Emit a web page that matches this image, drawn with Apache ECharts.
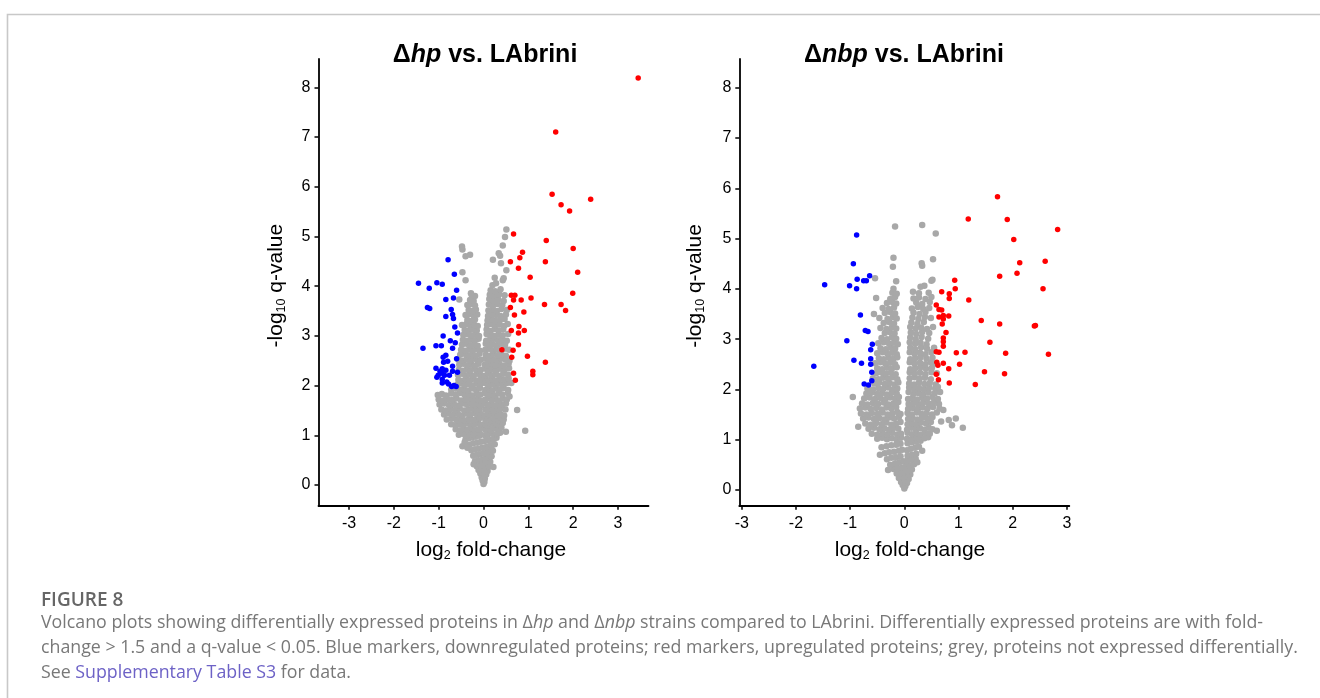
<!DOCTYPE html>
<html>
<head>
<meta charset="utf-8">
<title>Volcano plots</title>
<script src="https://cdn.jsdelivr.net/npm/echarts@6/dist/echarts.min.js"></script>
<style>
  html, body { margin: 0; padding: 0; background: #fff; }
  #chart { width: 1320px; height: 698px; }
</style>
</head>
<body>
<div id="chart"></div>
<script>
  // tick labels
  var xTicks = [-3, -2, -1, 0, 1, 2, 3];
  var yTicks = [0, 1, 2, 3, 4, 5, 6, 7, 8];

  // Δhp vs. LAbrini  [log2 fold-change, -log10 q-value]
  var hpUp = [[3.45,8.19],[1.61,7.10],[1.53,5.85],[2.39,5.75],[1.73,5.64],[1.92,5.51],[0.67,5.05],[1.40,4.92],[2.00,4.76],[0.87,4.68],[0.81,4.57],[0.60,4.49],[1.38,4.49],[0.78,4.36],[2.10,4.28],[1.04,4.18],[0.62,3.82],[0.70,3.82],[1.99,3.86],[1.06,3.76],[0.84,3.72],[0.67,3.72],[1.36,3.63],[1.73,3.63],[0.60,3.57],[1.83,3.51],[0.90,3.48],[0.69,3.42],[0.79,3.19],[0.62,3.11],[0.91,3.11],[0.78,3.06],[0.78,2.82],[0.41,2.72],[0.66,2.71],[0.98,2.59],[0.63,2.57],[1.38,2.47],[1.10,2.29],[1.10,2.22],[0.67,2.25],[0.71,2.11]];
  var hpDown = [[-0.79,4.53],[-0.65,4.24],[-1.45,4.06],[-1.04,4.07],[-0.92,4.04],[-1.21,3.96],[-0.60,3.92],[-0.67,3.76],[-0.84,3.73],[-1.25,3.57],[-1.20,3.55],[-0.72,3.53],[-0.69,3.43],[-0.84,3.39],[-0.67,3.35],[-0.64,3.18],[-0.58,3.06],[-0.90,3.00],[-0.74,2.90],[-0.63,2.86],[-1.06,2.80],[-0.94,2.80],[-1.35,2.75],[-0.69,2.75],[-0.84,2.61],[-0.90,2.57],[-0.60,2.54],[-0.89,2.47],[-0.80,2.49],[-0.69,2.39],[-1.06,2.35],[-0.92,2.34],[-0.97,2.29],[-0.84,2.31],[-0.69,2.29],[-0.58,2.27],[-0.92,2.25],[-1.01,2.21],[-0.87,2.21],[-0.76,2.21],[-1.04,2.17],[-0.92,2.13],[-0.92,2.05],[-0.82,2.07],[-0.78,2.03],[-0.71,1.98],[-0.61,1.98],[-0.66,2.00]];
  var hpGrey = [
    [0.00,0.02],[0.02,0.06],[-0.02,0.09],[0.03,0.13],[-0.04,0.15],[0.01,0.18],[0.06,0.21],[-0.07,0.23],[-0.01,0.25],[0.09,0.28],[-0.11,0.30],[-0.04,0.32],[0.04,0.34],[0.12,0.37],[-0.15,0.38],[-0.07,0.40],[0.01,0.42],[0.08,0.44],[0.15,0.47],[-0.19,0.48],[-0.11,0.50],[-0.03,0.51],[0.04,0.53],[0.11,0.55],[0.18,0.58],[-0.23,0.59],[-0.15,0.61],[-0.07,0.62],[0.00,0.64],[0.07,0.65],[0.14,0.67],[0.21,0.69],[-0.27,0.70],[-0.19,0.72],[-0.11,0.73],[-0.03,0.75],[0.05,0.76],[0.12,0.78],[0.19,0.80],[0.25,0.82],[-0.31,0.81],[-0.23,0.84],[-0.14,0.85],[-0.06,0.87],[0.02,0.88],[0.09,0.90],[0.16,0.91],[0.23,0.93],[0.29,0.95],[-0.40,0.92],[-0.33,0.94],[-0.25,0.96],[-0.17,0.97],[-0.09,0.99],[-0.47,0.78],[-0.22,0.42],[0.22,0.36],[-0.36,0.75],[-0.42,0.86],
    [-0.55,1.01],[-0.46,1.03],[-0.38,1.00],[-0.30,1.04],[-0.22,1.02],[-0.15,1.05],[-0.08,1.03],[0.03,1.00],[0.10,1.02],[0.17,1.04],[0.24,1.01],[0.31,1.03],[0.37,1.05],
    [-0.62,1.12],[-0.52,1.10],[-0.44,1.13],[-0.35,1.11],[-0.27,1.14],[-0.19,1.10],[-0.11,1.12],[-0.05,1.15],[0.04,1.11],[0.11,1.13],[0.18,1.10],[0.26,1.14],[0.33,1.12],[0.40,1.15],
    [-0.72,1.22],[-0.63,1.20],[-0.54,1.23],[-0.45,1.21],[-0.36,1.24],[-0.28,1.20],[-0.20,1.22],[-0.12,1.25],[-0.06,1.21],[0.03,1.23],[0.09,1.20],[0.16,1.24],[0.23,1.21],[0.30,1.23],[0.37,1.20],[0.43,1.25],
    [-0.82,1.32],[-0.71,1.34],[-0.60,1.31],[-0.50,1.33],[-0.41,1.30],[-0.32,1.34],[-0.24,1.31],[-0.16,1.33],[-0.08,1.35],[0.04,1.32],[0.11,1.34],[0.18,1.30],[0.25,1.33],[0.32,1.31],[0.39,1.35],[0.45,1.32],
    [-0.88,1.42],[-0.78,1.44],[-0.68,1.41],[-0.57,1.43],[-0.47,1.40],[-0.38,1.44],[-0.29,1.42],[-0.21,1.45],[-0.13,1.41],[-0.06,1.43],[0.03,1.40],[0.10,1.44],[0.17,1.42],[0.24,1.45],[0.31,1.41],[0.38,1.43],[0.46,1.40],
    [-0.94,1.52],[-0.84,1.50],[-0.73,1.53],[-0.63,1.51],[-0.53,1.54],[-0.43,1.50],[-0.34,1.52],[-0.25,1.55],[-0.17,1.51],[-0.09,1.53],[0.04,1.52],[0.12,1.50],[0.19,1.54],[0.27,1.51],[0.35,1.53],[0.42,1.55],[0.49,1.52],
    [-0.98,1.62],[-0.88,1.64],[-0.77,1.61],[-0.66,1.63],[-0.56,1.60],[-0.46,1.64],[-0.37,1.62],[-0.28,1.65],[-0.19,1.61],[-0.10,1.63],[-0.05,1.60],[0.03,1.64],[0.10,1.61],[0.18,1.63],[0.26,1.60],[0.33,1.65],[0.41,1.62],[0.50,1.64],
    [-1.00,1.72],[-0.90,1.70],[-0.80,1.73],[-0.70,1.71],[-0.60,1.74],[-0.50,1.70],[-0.40,1.72],[-0.31,1.75],[-0.22,1.71],[-0.13,1.73],[-0.06,1.70],[0.04,1.72],[0.11,1.74],[0.19,1.71],[0.27,1.73],[0.35,1.70],[0.43,1.74],[0.52,1.72],
    [-1.02,1.81],[-0.93,1.83],[-0.84,1.80],[-0.72,1.84],[-0.62,1.82],[-0.52,1.85],[-0.42,1.81],[-0.33,1.83],[-0.24,1.80],[-0.15,1.84],[-0.07,1.82],[0.03,1.85],[0.10,1.81],[0.18,1.83],[0.26,1.80],[0.34,1.84],[0.42,1.82],[0.54,1.85],
    [-0.72,1.92],[-0.62,1.94],[-0.53,1.91],[-0.44,1.93],[-0.35,1.90],[-0.26,1.94],[-0.17,1.92],[-0.08,1.95],[0.04,1.91],[0.12,1.93],[0.20,1.90],[0.28,1.94],[0.36,1.92],[0.45,1.95],[0.55,1.91],
    [-0.58,2.02],[-0.50,2.04],[-0.42,2.01],[-0.33,2.03],[-0.25,2.00],[-0.16,2.04],[-0.08,2.02],[0.03,2.05],[0.10,2.01],[0.18,2.03],[0.26,2.00],[0.34,2.04],[0.42,2.02],[0.52,2.05],
    [-0.56,2.12],[-0.47,2.10],[-0.39,2.13],[-0.30,2.11],[-0.22,2.14],[-0.14,2.10],[-0.07,2.12],[0.04,2.14],[0.12,2.11],[0.20,2.13],[0.28,2.10],[0.37,2.14],[0.46,2.12],[0.56,2.15],
    [-0.57,2.22],[-0.48,2.24],[-0.40,2.21],[-0.31,2.23],[-0.23,2.20],[-0.15,2.24],[-0.07,2.22],[0.03,2.20],[0.10,2.24],[0.18,2.21],[0.27,2.23],[0.35,2.20],[0.44,2.24],[0.55,2.22],
    [-0.55,2.32],[-0.46,2.30],[-0.37,2.33],[-0.29,2.31],[-0.20,2.34],[-0.12,2.30],[-0.06,2.32],[0.04,2.34],[0.12,2.31],[0.20,2.33],[0.28,2.30],[0.37,2.34],[0.47,2.32],[0.57,2.35],
    [-0.54,2.42],[-0.45,2.44],[-0.36,2.41],[-0.27,2.43],[-0.19,2.40],[-0.11,2.44],[0.03,2.42],[0.11,2.40],[0.19,2.44],[0.27,2.41],[0.36,2.43],[0.45,2.40],[0.56,2.44],
    [-0.56,2.52],[-0.47,2.50],[-0.38,2.53],[-0.29,2.51],[-0.21,2.54],[-0.13,2.50],[-0.06,2.52],[0.04,2.54],[0.12,2.51],[0.21,2.53],[0.30,2.50],[0.39,2.54],[0.49,2.52],[0.58,2.50],
    [-0.52,2.62],[-0.43,2.64],[-0.34,2.61],[-0.25,2.63],[-0.17,2.60],[-0.09,2.64],[0.05,2.62],[0.13,2.60],[0.22,2.64],[0.31,2.61],[0.40,2.63],[0.50,2.60],
    [-0.50,2.72],[-0.41,2.70],[-0.32,2.73],[-0.23,2.71],[-0.15,2.74],[-0.08,2.70],[0.04,2.72],[0.12,2.74],[0.20,2.71],[0.29,2.73],[0.38,2.70],[0.47,2.74],[0.57,2.72],
    [-0.48,2.82],[-0.38,2.84],[-0.29,2.81],[-0.21,2.83],[-0.13,2.80],[0.05,2.84],[0.13,2.81],[0.21,2.83],[0.30,2.80],[0.39,2.84],[0.48,2.82],
    [-0.46,2.92],[-0.37,2.90],[-0.28,2.93],[-0.19,2.91],[-0.11,2.94],[0.06,2.90],[0.14,2.92],[0.23,2.94],[0.32,2.91],[0.41,2.93],[0.52,2.90],
    [-0.45,3.02],[-0.36,3.04],[-0.27,3.01],[-0.18,3.03],[-0.10,3.00],[0.07,3.04],[0.15,3.02],[0.24,3.00],[0.33,3.03],[0.43,3.01],[0.55,3.04],
    [-0.42,3.12],[-0.33,3.10],[-0.24,3.13],[-0.15,3.11],[0.07,3.13],[0.16,3.10],[0.25,3.14],[0.34,3.11],[0.44,3.13],
    [-0.48,3.22],[-0.38,3.24],[-0.30,3.21],[-0.21,3.23],[-0.13,3.20],[0.08,3.22],[0.17,3.24],[0.26,3.21],[0.36,3.23],[0.46,3.20],[0.54,3.24],
    [-0.36,3.32],[-0.27,3.30],[-0.19,3.33],[0.09,3.31],[0.18,3.34],[0.27,3.30],[0.37,3.32],[0.47,3.34],
    [-0.40,3.42],[-0.31,3.44],[-0.22,3.41],[-0.14,3.43],[0.10,3.40],[0.19,3.44],[0.28,3.42],[0.38,3.40],[0.50,3.43],
    [-0.33,3.52],[-0.24,3.50],[-0.17,3.53],[0.11,3.51],[0.20,3.53],[0.30,3.50],[0.40,3.54],[0.52,3.52],
    [-0.36,3.62],[-0.27,3.64],[-0.19,3.61],[0.12,3.63],[0.21,3.60],[0.31,3.64],[0.42,3.62],
    [-0.54,3.73],[-0.30,3.72],[-0.22,3.70],[0.13,3.74],[0.22,3.71],[0.33,3.73],[0.45,3.70],
    [-0.26,3.82],[-0.19,3.80],[0.14,3.83],[0.24,3.81],[0.35,3.84],[0.47,3.82],
    [-0.28,3.86],[0.16,3.92],[0.26,3.90],[0.38,3.94],[0.20,4.02],[0.28,4.06],[0.43,4.12],[0.25,4.17],[0.45,4.16],[-0.40,4.12],[0.51,4.32],[-0.47,4.28],[0.39,4.46],[0.21,4.53],[0.37,4.61],[0.34,4.66],[-0.40,4.60],[-0.30,4.63],[-0.47,4.74],[-0.48,4.80],[0.43,4.82],[0.48,4.99],[0.51,5.14],
    [0.75,1.51],[0.93,1.09],[0.50,1.07],[0.58,1.78],[0.62,2.05]
  ];

  // Δnbp vs. LAbrini
  var nbpUp = [[1.72,5.83],[1.18,5.39],[1.90,5.38],[2.83,5.18],[2.02,4.98],[2.60,4.55],[2.13,4.52],[1.76,4.25],[2.08,4.31],[0.93,4.17],[0.94,4.00],[2.56,4.00],[0.69,3.94],[0.83,3.90],[0.83,3.81],[1.19,3.78],[0.59,3.68],[0.64,3.59],[0.69,3.58],[0.64,3.44],[0.72,3.47],[0.72,3.40],[0.82,3.46],[1.42,3.37],[0.70,3.30],[1.76,3.30],[2.40,3.26],[2.42,3.27],[0.77,3.13],[0.72,3.02],[0.72,2.95],[1.58,2.94],[0.72,2.86],[0.59,2.75],[0.64,2.74],[0.96,2.73],[1.12,2.74],[1.87,2.72],[2.66,2.70],[0.60,2.54],[0.72,2.52],[0.62,2.48],[1.02,2.50],[0.82,2.41],[1.48,2.35],[0.59,2.30],[1.85,2.31],[0.63,2.19],[0.83,2.13],[1.31,2.10]];
  var nbpDown = [[-0.88,5.07],[-0.94,4.50],[-0.64,4.26],[-0.87,4.19],[-0.75,4.16],[-0.70,4.16],[-1.47,4.08],[-1.01,4.06],[-0.88,4.00],[-0.81,3.48],[-0.72,3.17],[-0.67,3.15],[-1.06,2.97],[-0.59,2.90],[-0.62,2.79],[-0.62,2.61],[-0.93,2.58],[-0.79,2.52],[-0.62,2.50],[-1.67,2.46],[-0.60,2.34],[-0.60,2.17],[-0.74,2.11],[-0.66,2.09]];
  var nbpGrey = [
    [0.00,0.03],[0.02,0.08],[-0.03,0.10],[0.05,0.14],[-0.06,0.16],[0.01,0.19],[0.08,0.22],[-0.10,0.24],[-0.03,0.26],[0.04,0.28],[0.11,0.31],[-0.14,0.33],[-0.07,0.34],[0.00,0.36],[0.07,0.38],[0.14,0.41],[-0.20,0.42],[-0.12,0.44],[-0.04,0.45],[0.03,0.47],[0.10,0.49],[0.18,0.51],[-0.26,0.50],[-0.17,0.53],[-0.09,0.55],[-0.02,0.57],[0.05,0.58],[0.13,0.60],[0.21,0.62],[-0.32,0.61],[-0.24,0.64],[-0.15,0.65],[-0.07,0.67],[0.06,0.68],[0.14,0.70],[0.22,0.72],[-0.36,0.73],[-0.28,0.75],[-0.19,0.76],[-0.10,0.78],[-0.04,0.80],[0.05,0.79],[0.12,0.82],[0.20,0.84],[0.27,0.86],[-0.42,0.85],[-0.33,0.87],[-0.24,0.89],[-0.15,0.90],[-0.07,0.92],[0.06,0.93],[0.14,0.95],[0.22,0.96],[0.30,0.98],[-0.30,0.40],[0.24,0.55],[-0.45,0.70],[0.33,0.78],
    [-0.50,1.02],[-0.41,1.04],[-0.32,1.01],[-0.23,1.03],[-0.14,1.00],[-0.06,1.04],[0.05,1.02],[0.13,1.00],[0.21,1.04],[0.29,1.01],[0.37,1.03],[0.44,1.05],
    [-0.60,1.12],[-0.50,1.10],[-0.40,1.13],[-0.31,1.11],[-0.22,1.14],[-0.13,1.10],[-0.06,1.12],[0.06,1.14],[0.14,1.11],[0.22,1.13],[0.30,1.10],[0.38,1.14],[0.47,1.12],
    [-0.66,1.22],[-0.56,1.24],[-0.46,1.21],[-0.37,1.23],[-0.28,1.20],[-0.19,1.24],[-0.11,1.22],[0.05,1.20],[0.13,1.24],[0.21,1.21],[0.29,1.23],[0.37,1.20],[0.45,1.24],[0.52,1.21],[-0.85,1.26],[0.88,1.29],[1.08,1.24],[0.60,1.18],
    [-0.72,1.32],[-0.62,1.30],[-0.52,1.33],[-0.42,1.31],[-0.33,1.34],[-0.24,1.30],[-0.15,1.32],[-0.07,1.35],[0.06,1.31],[0.14,1.33],[0.23,1.30],[0.31,1.34],[0.40,1.32],[0.49,1.35],
    [-0.76,1.42],[-0.66,1.44],[-0.56,1.41],[-0.46,1.43],[-0.37,1.40],[-0.28,1.44],[-0.19,1.42],[-0.10,1.45],[0.07,1.41],[0.15,1.43],[0.24,1.40],[0.33,1.44],[0.42,1.42],[0.52,1.45],[0.82,1.39],[0.95,1.42],[0.68,1.36],
    [-0.80,1.52],[-0.70,1.50],[-0.60,1.53],[-0.50,1.51],[-0.40,1.54],[-0.31,1.50],[-0.22,1.52],[-0.13,1.55],[-0.07,1.51],[0.06,1.53],[0.14,1.50],[0.23,1.54],[0.32,1.51],[0.41,1.53],[0.51,1.50],[0.60,1.54],
    [-0.82,1.62],[-0.72,1.64],[-0.62,1.61],[-0.52,1.63],[-0.42,1.60],[-0.33,1.64],[-0.24,1.62],[-0.15,1.65],[0.07,1.61],[0.16,1.63],[0.25,1.60],[0.34,1.64],[0.43,1.62],[0.53,1.65],[0.72,1.59],
    [-0.78,1.72],[-0.68,1.70],[-0.58,1.73],[-0.48,1.71],[-0.38,1.74],[-0.29,1.70],[-0.20,1.72],[-0.11,1.75],[0.08,1.71],[0.17,1.73],[0.26,1.70],[0.35,1.74],[0.45,1.72],[0.55,1.75],[0.64,1.71],
    [-0.95,1.85],[-0.74,1.82],[-0.64,1.84],[-0.54,1.81],[-0.44,1.83],[-0.35,1.80],[-0.26,1.84],[-0.17,1.82],[-0.10,1.85],[0.07,1.81],[0.15,1.83],[0.24,1.80],[0.33,1.84],[0.42,1.82],[0.52,1.85],[0.62,1.81],
    [-0.70,1.92],[-0.60,1.94],[-0.50,1.91],[-0.41,1.93],[-0.32,1.90],[-0.23,1.94],[-0.14,1.92],[0.08,1.95],[0.17,1.91],[0.26,1.93],[0.35,1.90],[0.45,1.94],[0.56,1.92],[0.66,1.95],
    [-0.68,2.02],[-0.58,2.00],[-0.48,2.03],[-0.39,2.01],[-0.30,2.04],[-0.21,2.00],[-0.13,2.02],[0.09,2.04],[0.18,2.01],[0.27,2.03],[0.36,2.00],[0.46,2.04],[0.57,2.02],
    [-0.55,2.12],[-0.46,2.14],[-0.36,2.11],[-0.27,2.13],[-0.18,2.10],[-0.11,2.14],[0.09,2.12],[0.18,2.10],[0.27,2.14],[0.37,2.11],[0.47,2.13],[0.58,2.10],
    [-0.58,2.22],[-0.48,2.20],[-0.39,2.23],[-0.30,2.21],[-0.21,2.24],[-0.13,2.20],[0.10,2.22],[0.19,2.24],[0.28,2.21],[0.38,2.23],[0.49,2.20],
    [-0.52,2.32],[-0.43,2.34],[-0.34,2.31],[-0.25,2.33],[-0.16,2.30],[0.10,2.34],[0.19,2.31],[0.29,2.33],[0.39,2.30],[0.50,2.34],[0.60,2.32],
    [-0.50,2.42],[-0.41,2.40],[-0.32,2.43],[-0.23,2.41],[-0.14,2.44],[0.11,2.40],[0.20,2.42],[0.30,2.44],[0.40,2.41],[0.51,2.43],
    [-0.54,2.52],[-0.44,2.54],[-0.35,2.51],[-0.26,2.53],[-0.17,2.50],[0.10,2.54],[0.19,2.51],[0.29,2.53],[0.39,2.50],[0.49,2.54],[0.58,2.52],
    [-0.47,2.62],[-0.38,2.60],[-0.29,2.63],[-0.20,2.61],[-0.13,2.64],[0.11,2.60],[0.20,2.62],[0.30,2.64],[0.41,2.61],[0.52,2.63],
    [-0.50,2.72],[-0.40,2.74],[-0.31,2.71],[-0.22,2.73],[-0.14,2.70],[0.10,2.74],[0.19,2.71],[0.29,2.73],[0.39,2.70],[0.50,2.74],
    [-0.44,2.82],[-0.34,2.80],[-0.25,2.83],[-0.17,2.81],[0.11,2.83],[0.20,2.80],[0.31,2.84],[0.42,2.81],[0.55,2.83],
    [-0.48,2.92],[-0.38,2.94],[-0.28,2.91],[-0.19,2.93],[-0.12,2.90],[0.10,2.94],[0.20,2.91],[0.30,2.93],[0.41,2.90],
    [-0.42,3.02],[-0.32,3.00],[-0.23,3.03],[-0.15,3.01],[0.11,3.03],[0.21,3.00],[0.32,3.04],[0.44,3.01],
    [-0.36,3.12],[-0.27,3.14],[-0.18,3.11],[0.12,3.13],[0.22,3.10],[0.33,3.14],[0.46,3.12],
    [-0.44,3.22],[-0.33,3.20],[-0.23,3.23],[-0.15,3.21],[0.11,3.24],[0.21,3.21],[0.31,3.23],[0.42,3.20],[0.53,3.24],
    [-0.38,3.32],[-0.28,3.34],[-0.19,3.31],[0.13,3.33],[0.24,3.30],[0.36,3.34],
    [-0.46,3.42],[-0.31,3.40],[-0.21,3.44],[-0.14,3.41],[0.15,3.43],[0.26,3.40],[0.38,3.44],[0.49,3.42],
    [-0.56,3.50],[-0.36,3.52],[-0.26,3.54],[-0.17,3.51],[0.17,3.53],[0.28,3.50],[0.39,3.54],
    [-0.40,3.62],[-0.29,3.60],[-0.19,3.63],[0.14,3.61],[0.25,3.64],[0.35,3.60],[0.46,3.62],
    [-0.32,3.72],[-0.22,3.74],[-0.15,3.71],[0.22,3.73],[0.33,3.70],[0.47,3.74],
    [-0.52,3.82],[-0.26,3.80],[-0.17,3.84],[0.17,3.81],[0.27,3.83],[0.39,3.80],[0.50,3.84],
    [-0.22,3.92],[-0.14,3.90],[0.16,3.94],[0.27,3.91],[0.45,3.92],
    [-0.20,4.00],[0.37,4.06],[0.30,4.04],[-0.54,4.21],[-0.15,4.15],[0.52,4.18],[0.50,4.16],[0.32,4.51],[0.33,4.46],[0.53,4.59],[-0.21,4.44],[-0.20,4.62],[-0.17,5.24],[0.33,5.27],[0.58,5.10],[0.62,2.05],[0.65,1.62]
  ];

  var ARIAL = '"Liberation Sans", Arial, sans-serif';
  var CAPTION_FONT = '"Open Sans", "Noto Sans", sans-serif';
  var GREY = '#a8a8a8';
  var RED = '#ff0000';
  var BLUE = '#0000ff';
  var CAP_GREY = '#787878';

  var myChart = echarts.init(document.getElementById('chart'), null, {renderer: 'canvas'});

  function xAxisFor(gridIndex, min, max) {
    return {
      type: 'value', gridIndex: gridIndex, min: min, max: max,
      splitLine: {show: false},
      axisLine: {onZero: false, lineStyle: {color: '#000', width: 1.8}},
      axisTick: {customValues: xTicks, length: 4, lineStyle: {color: '#000', width: 1.5}},
      axisLabel: {customValues: xTicks, margin: 10, color: '#000', fontSize: 16, fontFamily: ARIAL}
    };
  }
  function yAxisFor(gridIndex, min, max) {
    return {
      type: 'value', gridIndex: gridIndex, min: min, max: max,
      splitLine: {show: false},
      axisLine: {onZero: false, lineStyle: {color: '#000', width: 1.8}},
      axisTick: {customValues: yTicks, length: 4, lineStyle: {color: '#000', width: 1.5}},
      axisLabel: {customValues: yTicks, margin: 8, color: '#000', fontSize: 16, fontFamily: ARIAL}
    };
  }
  function dots(idx, data, color, size) {
    return {
      type: 'scatter', xAxisIndex: idx, yAxisIndex: idx, data: data,
      symbolSize: size, itemStyle: {color: color, opacity: 1}, silent: true
    };
  }

  // rich styles for titles, axis names and caption
  var titleRich = {
    b: {font: 'bold 25px ' + ARIAL, fill: '#000'},
    bi: {font: 'italic bold 25px ' + ARIAL, fill: '#000'}
  };
  var nameRich = {
    n: {font: '21px ' + ARIAL, fill: '#000', lineHeight: 24},
    s: {font: '12.5px ' + ARIAL, fill: '#000', lineHeight: 4, verticalAlign: 'bottom'}
  };
  var capRich = {
    i: {font: 'italic 17.8px ' + CAPTION_FONT, fill: CAP_GREY},
    l: {font: '17.8px ' + CAPTION_FONT, fill: '#6d62c6'}
  };

  function txt(x, y, text, rich, extra) {
    var el = {
      type: 'text', x: x, y: y, silent: true,
      style: {text: text, rich: rich, align: 'center', verticalAlign: 'middle'}
    };
    if (extra) { for (var k in extra) el[k] = extra[k]; }
    return el;
  }
  function capLine(y, text, font, color) {
    return {
      type: 'text', x: 41, y: y, silent: true,
      style: {text: text, rich: capRich, font: font || ('17.8px ' + CAPTION_FONT), fill: color || CAP_GREY, align: 'left', verticalAlign: 'middle'}
    };
  }

  var option = {
    animation: false,
    backgroundColor: '#fff',
    grid: [
      {left: 318.5, top: 59, width: 330, height: 446.7},
      {left: 739.3, top: 59, width: 330, height: 446.7}
    ],
    xAxis: [xAxisFor(0, -3.68, 3.68), xAxisFor(1, -3.045, 3.045)],
    yAxis: [yAxisFor(0, -0.416, 8.57), yAxisFor(1, -0.312, 8.57)],
    series: [
      dots(0, hpGrey, GREY, 6.5), dots(0, hpDown, BLUE, 5.5), dots(0, hpUp, RED, 5.5),
      dots(1, nbpGrey, GREY, 6.5), dots(1, nbpDown, BLUE, 5.5), dots(1, nbpUp, RED, 5.5)
    ],
    graphic: [
      {type: 'rect', silent: true, z: -10, shape: {x: 7.5, y: 14.5, width: 1400, height: 800},
        style: {fill: 'none', stroke: '#c8c8c8', lineWidth: 1.6}},
      txt(485, 55.5, '{b|Δ}{bi|hp}{b| vs. LAbrini}', titleRich),
      txt(904, 55.5, '{b|Δ}{bi|nbp}{b| vs. LAbrini}', titleRich),
      txt(491, 550.5, '{n|log}{s|2}{n| fold-change}', nameRich),
      txt(910, 550.5, '{n|log}{s|2}{n| fold-change}', nameRich),
      txt(276.5, 285.6, '{n|-log}{s|10}{n| q-value}', nameRich, {rotation: Math.PI / 2}),
      txt(695.5, 286, '{n|-log}{s|10}{n| q-value}', nameRich, {rotation: Math.PI / 2}),
      capLine(600.3, 'FIGURE 8', '600 19px ' + CAPTION_FONT, '#666666'),
      capLine(623.3, 'Volcano plots showing differentially expressed proteins in Δ{i|hp} and Δ{i|nbp} strains compared to LAbrini. Differentially expressed proteins are with fold-'),
      capLine(648, 'change > 1.5 and a q-value < 0.05. Blue markers, downregulated proteins; red markers, upregulated proteins; grey, proteins not expressed differentially.'),
      capLine(672.6, 'See {l|Supplementary Table S3} for data.')
    ]
  };

  myChart.setOption(option);
</script>
</body>
</html>
